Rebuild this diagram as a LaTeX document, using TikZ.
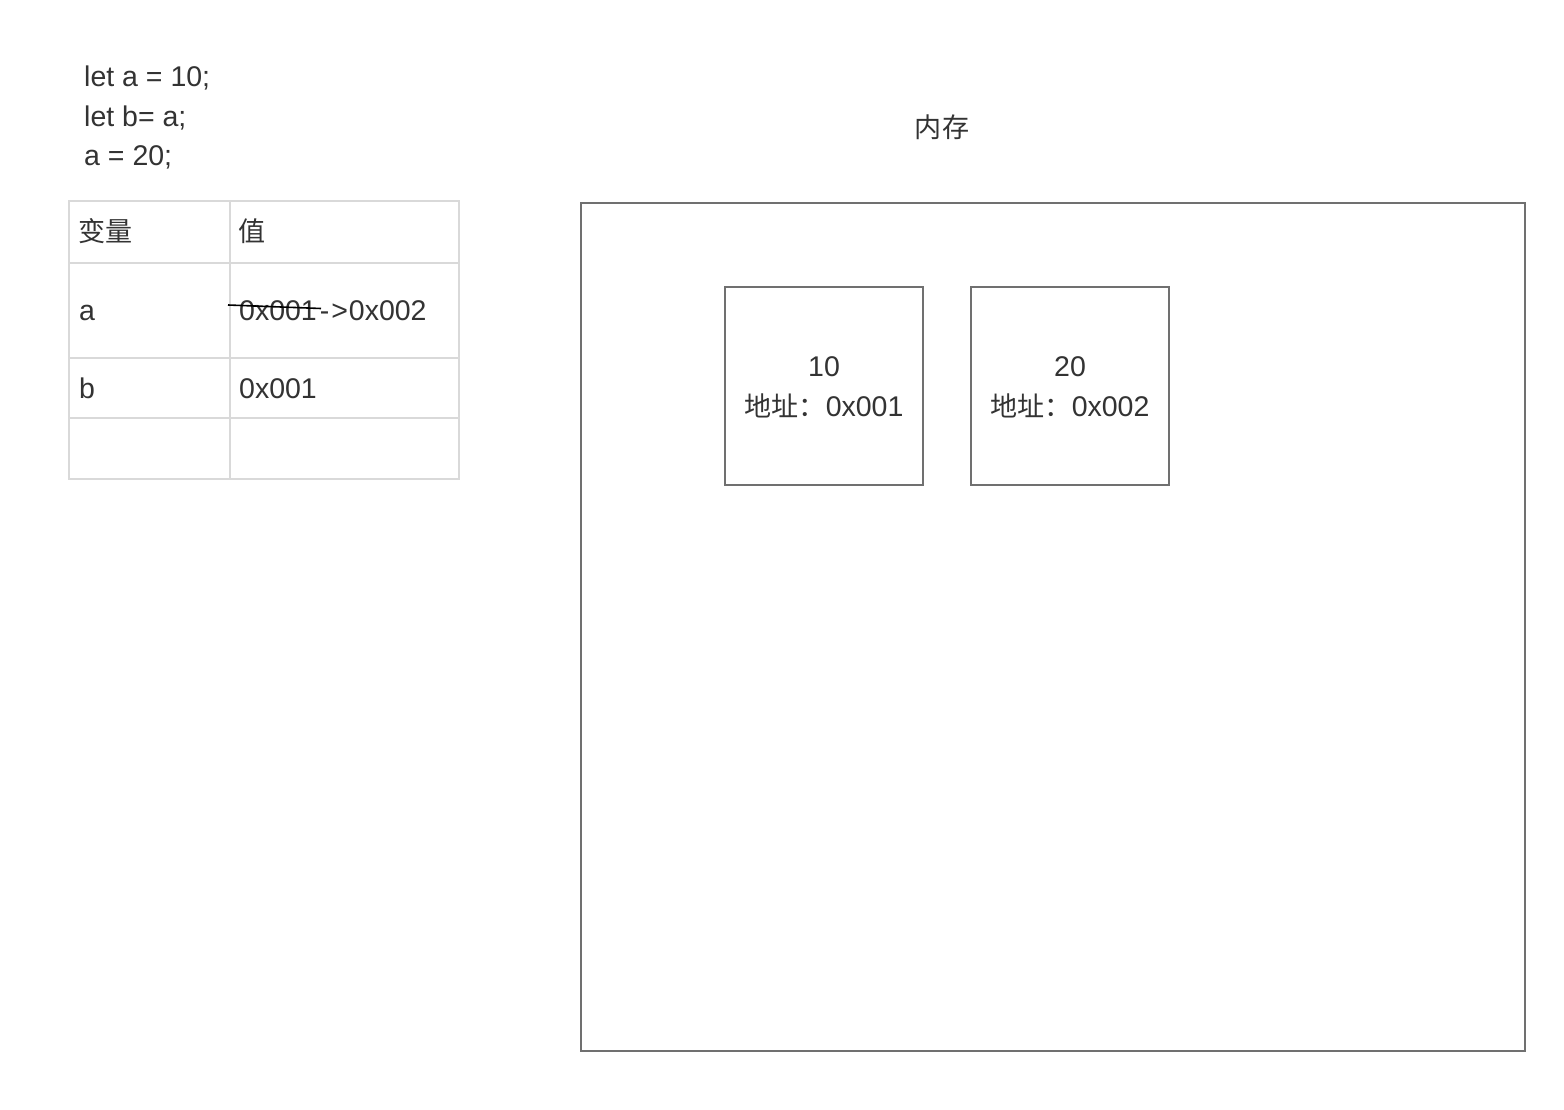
\documentclass[tikz,border=0pt]{standalone}
\usepackage{fontspec}
\setmainfont{Liberation Sans}
\newfontfamily\cjk{Noto Sans CJK SC}[Scale=0.95]
\definecolor{txt}{HTML}{333333}
\definecolor{grid}{HTML}{D9D9D9}
\definecolor{boxc}{HTML}{707070}
\begin{document}
\begin{tikzpicture}[x=1pt,y=-1pt,
  every node/.style={text=txt,font=\fontsize{28.5}{32}\selectfont,inner sep=0pt},
  lt/.style={anchor=base west},
  ctr/.style={anchor=base},
  cell/.style={draw=grid,line width=2pt},
  mem/.style={draw=boxc,line width=2pt}]
\useasboundingbox[fill=white] (0,0) rectangle (1564,1110);
% code
\node[lt] (c1) at (84,87) {let a = 10;};
\node[lt] (c2) at (84,127) {let b= a;};
\node[lt] (c3) at (84,166) {a = 20;};
% table
\draw[cell] (69,201) rectangle (459,479);
\draw[cell] (230,201) -- (230,479);
\foreach \y in {263,358,418} \draw[cell] (69,\y) -- (459,\y);
\node[lt] (h1) at (78,242) {\cjk 变量};
\node[lt] (h2) at (238,242) {\cjk 值};
\node[lt] (ra) at (79,320) {a};
\node[lt] (va) at (239,320) {0x001\kern3pt-\kern2pt>\kern1pt0x002};
\node[lt] (rb) at (79,398) {b};
\node[lt] (vb) at (239,398) {0x001};
\coordinate (s1) at (228,305);
\coordinate (s2) at (321,308.5);
\draw[black,line width=1.6pt] (s1) -- (s2);
% memory
\node[ctr] (memt) at (942,138) {\cjk 内存};
\draw[mem] (581,203) rectangle (1525,1051);
\node[mem,minimum width=198pt,minimum height=198pt] (m1) at (824,386) {};
\node[mem,minimum width=198pt,minimum height=198pt] (m2) at (1070,386) {};
\node[ctr] (m1a) at (824,376) {10};
\node[ctr] (m1b) at (824,416) {{\cjk 地址：}0x001};
\node[ctr] (m2a) at (1070,376) {20};
\node[ctr] (m2b) at (1070,416) {{\cjk 地址：}0x002};
\end{tikzpicture}
\end{document}
